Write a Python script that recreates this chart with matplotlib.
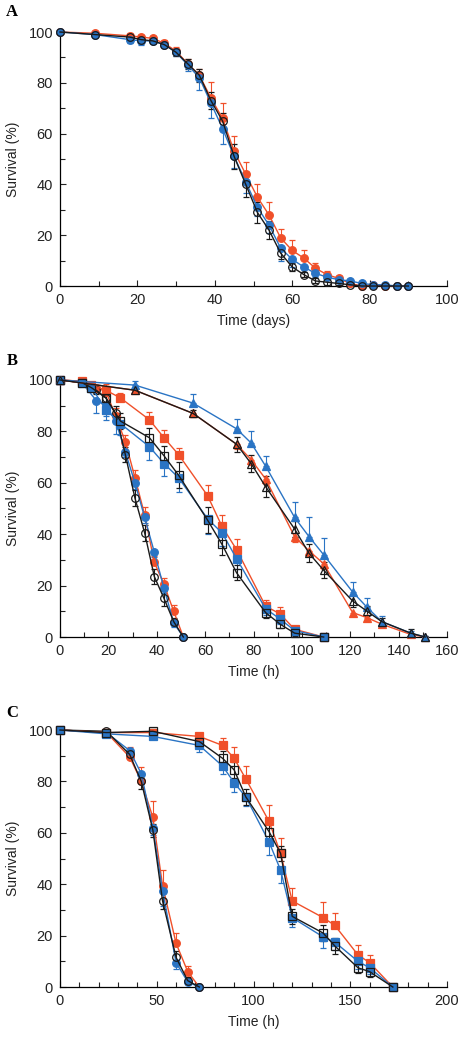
import matplotlib
matplotlib.use('Agg')
import matplotlib.pyplot as plt
from matplotlib.ticker import MultipleLocator

RED = '#f0502a'
BLUE = '#2a74c4'
BLACK = '#1a1a1a'

# ---- panel A : time in days ----
tA = [0, 9, 18, 21, 24, 27, 30, 33, 36, 39, 42, 45, 48, 51, 54, 57, 60, 63, 66, 69, 72, 75, 78, 81, 84, 87, 90]
redA = [100, 99.5, 98.5, 98, 97.5, 95.5, 92.5, 87.5, 83, 74, 66, 53, 44, 35, 28, 19, 14, 11, 7, 4.5, 3, 1, 0, 0.5, 0, 0, 0]
blueA = [100, 99, 97, 96.5, 96.5, 95, 92, 87, 82, 72, 62, 51, 41, 31, 24, 15, 10.5, 7.5, 5, 3.5, 2.5, 2, 1, 0.5, 0.5, 0, 0]
blackA = [100, 99, 98, 97, 96.5, 95, 92, 87.5, 83, 73, 65, 51, 40, 29, 22, 13, 7.5, 4.5, 2, 1.5, 1, 0.5, 0, 0, 0, 0, 0]
redA_err = [0, 0.5, 1, 1, 1, 1.5, 1.5, 2, 2.5, 6.5, 6, 6, 5, 5, 5, 3.5, 4, 3, 2, 1.5, 1, 0.5, 0.5, 0.3, 0.3, 0, 0]
blueA_err = [0, 0.5, 1.5, 1.5, 1, 1, 1.5, 2.5, 5, 6, 6, 4.5, 4.5, 3.5, 3, 5, 3, 2, 1.5, 1, 1, 1, 0.5, 0.5, 0.3, 0, 0]
blackA_err = [0, 0.5, 1, 1, 1, 1, 1.5, 2, 2.5, 3.5, 3, 5, 5, 4, 3.5, 2.5, 1.5, 1, 1, 1, 0.5, 0.5, 0.3, 0.3, 0.3, 0, 0]

# ---- panel B : hours ----
tB_circ = [0, 9, 15, 19, 23, 27, 31, 35, 39, 43, 47, 51]
redB_circ = [100, 99.5, 97, 95.5, 86, 76, 62, 47.5, 29, 20.5, 10, 0]
blueB_circ = [100, 99, 92, 90, 84, 72, 60, 46.5, 33, 19, 5.5, 0]
blackB_circ = [100, 99, 96, 93, 87, 71, 54, 40.5, 23.5, 15, 6, 0]
redB_circ_err = [0, 0.5, 1, 3, 3, 2.5, 3, 3, 2.5, 2.5, 2.5, 0]
blueB_circ_err = [0, 0.5, 5, 4, 5, 2, 2.5, 2, 2, 2, 1.5, 0]
blackB_circ_err = [0, 0.5, 1.5, 3, 3, 3, 3, 3, 3, 3, 1.5, 0]

tB_sq = [0, 9, 13, 19, 25, 37, 43, 49, 61, 67, 73, 85, 91, 97, 109]
redB_sq = [100, 99.5, 98, 96, 93, 84.5, 77.5, 71, 55, 43, 34, 12, 9, 3, 0]
blueB_sq = [100, 99, 97, 88.5, 83, 74, 67.5, 62, 46, 40.5, 30.5, 11, 7, 2.5, 0]
blackB_sq = [100, 99, 97, 93, 84, 77.5, 70.5, 63, 45.5, 36, 25, 9.5, 5, 1.5, 0]
redB_sq_err = [0, 0.5, 1, 1.5, 2, 3, 3, 2.5, 4, 4.5, 4, 2.5, 2.5, 1, 0]
blueB_sq_err = [0, 0.5, 1, 4, 4.5, 5, 5, 5.5, 6, 5, 4, 2.5, 2, 1, 0.5]
blackB_sq_err = [0, 0.5, 1, 2, 3, 4, 4, 5, 5, 4, 3, 2, 1.5, 1, 0.5]

tB_tri = [0, 31, 55, 73, 79, 85, 97, 103, 109, 121, 127, 133, 145, 151]
redB_tri = [100, 96, 87, 75, 69, 61.5, 39, 33.5, 28.5, 9.5, 7.5, 5, 1, 0]
blueB_tri = [100, 98, 91, 81, 75.5, 66.5, 46.5, 39, 32, 17.5, 11.5, 6, 1.5, 0]
blackB_tri = [100, 96, 87, 75, 67.5, 58.5, 42, 32.5, 26, 14, 10, 6, 1.5, 0]
redB_tri_err = [0, 1, 1, 2, 2, 2, 2, 2, 2, 1.5, 1, 1, 0.5, 0]
blueB_tri_err = [0, 1.5, 3.5, 4, 4.5, 4, 6, 7.5, 6.5, 4, 3.5, 2, 1, 0.5]
blackB_tri_err = [0, 1, 1.5, 3, 3.5, 4, 3, 3.5, 3, 2.5, 2, 1.5, 1.5, 0.5]

# ---- panel C : hours ----
tC_circ = [0, 24, 36, 42, 48, 53, 60, 66, 72]
redC_circ = [100, 99, 89.5, 80, 66, 39.5, 17, 6, 0]
blueC_circ = [100, 99, 92, 83, 62, 37.5, 9.5, 2, 0]
blackC_circ = [100, 99.5, 90.5, 80, 61, 33.5, 11.5, 2.5, 0]
redC_circ_err = [0, 1, 4, 5.5, 6.5, 6, 4, 2, 0]
blueC_circ_err = [0, 1, 1.5, 2, 3, 6, 2.5, 1, 0]
blackC_circ_err = [0, 1, 1.5, 3, 2.5, 3, 2.5, 1.5, 0]

tC_sq = [0, 24, 48, 72, 84, 90, 96, 108, 114, 120, 136, 142, 154, 160, 172]
redC_sq = [100, 99, 99, 97.5, 94, 89, 81, 64.5, 52, 33.5, 27, 24, 12.5, 9.5, 0]
blueC_sq = [100, 98.5, 97.5, 94, 86, 79.5, 74, 56.5, 45.5, 27, 19.5, 17.5, 10, 7.5, 0]
blackC_sq = [100, 99, 99.5, 95.5, 89, 84.5, 74, 60.5, 52, 27.5, 21, 16, 7.5, 6, 0]
redC_sq_err = [0, 1, 1, 1.5, 3, 4.5, 5, 6.5, 6, 5, 6, 5, 4, 3, 0]
blueC_sq_err = [0, 1, 1, 2.5, 3, 3.5, 3.5, 5, 5, 3.5, 4.5, 3, 3, 2.5, 0.5]
blackC_sq_err = [0, 1, 1, 2, 3, 3, 3, 3.5, 3, 3, 3, 3, 2, 2, 0.5]


def series(ax, x, y, err, color, marker, filled, side):
    lo = [e if side in ('down', 'both') else 0 for e in err]
    hi = [e if side in ('up', 'both') else 0 for e in err]
    ms = 5.5 if marker == 'o' else (5.5 if marker == 's' else 6)
    eb = ax.errorbar(x, y, yerr=[lo, hi], color=color, lw=1.0, marker=marker,
                     ms=ms, mfc=color if filled else 'none',
                     mec=color if not filled else color, mew=0.9,
                     ecolor=color, elinewidth=0.8, capsize=2, capthick=0.8,
                     clip_on=False, zorder=3)
    for part in eb.lines[1] + eb.lines[2] if False else []:
        part.set_clip_on(False)
    for c in eb[1]:
        c.set_clip_on(False)
    for c in eb[2]:
        c.set_clip_on(False)


def style(ax, xmax, xmajor, xlabel):
    ax.set_xlim(0, xmax)
    ax.set_ylim(0, 100)
    ax.spines['top'].set_visible(False)
    ax.spines['right'].set_visible(False)
    ax.spines['left'].set_linewidth(0.9)
    ax.spines['bottom'].set_linewidth(0.9)
    ax.xaxis.set_major_locator(MultipleLocator(xmajor))
    ax.xaxis.set_minor_locator(MultipleLocator(10))
    ax.yaxis.set_major_locator(MultipleLocator(20))
    ax.yaxis.set_minor_locator(MultipleLocator(10))
    ax.tick_params(which='both', direction='in', width=0.8, labelsize=10.5,
                   colors='#222222')
    ax.tick_params(which='major', length=4, pad=5)
    ax.tick_params(which='minor', length=3.5)
    ax.set_xlabel(xlabel, fontsize=10, labelpad=5, color='#222222')
    ax.set_ylabel('Survival (%)', fontsize=10, labelpad=6, color='#222222')


plt.rcParams['font.family'] = ['Liberation Sans', 'DejaVu Sans']

fig = plt.figure(figsize=(4.58, 10.39), dpi=100)

axA = fig.add_axes([0.131, 0.7247, 0.845, 0.2445])
series(axA, tA, redA, redA_err, RED, 'o', True, 'up')
series(axA, tA, blueA, blueA_err, BLUE, 'o', True, 'down')
series(axA, tA, blackA, blackA_err, BLACK, 'o', False, 'both')
style(axA, 100, 20, 'Time (days)')

axB = fig.add_axes([0.131, 0.3869, 0.845, 0.2474])
series(axB, tB_circ, redB_circ, redB_circ_err, RED, 'o', True, 'up')
series(axB, tB_circ, blueB_circ, blueB_circ_err, BLUE, 'o', True, 'down')
series(axB, tB_circ, blackB_circ, blackB_circ_err, BLACK, 'o', False, 'both')
series(axB, tB_sq, redB_sq, redB_sq_err, RED, 's', True, 'up')
series(axB, tB_sq, blueB_sq, blueB_sq_err, BLUE, 's', True, 'down')
series(axB, tB_sq, blackB_sq, blackB_sq_err, BLACK, 's', False, 'both')
series(axB, tB_tri, redB_tri, redB_tri_err, RED, '^', True, 'down')
series(axB, tB_tri, blueB_tri, blueB_tri_err, BLUE, '^', True, 'up')
series(axB, tB_tri, blackB_tri, blackB_tri_err, BLACK, '^', False, 'both')
style(axB, 160, 20, 'Time (h)')

axC = fig.add_axes([0.131, 0.0500, 0.845, 0.2474])
series(axC, tC_circ, redC_circ, redC_circ_err, RED, 'o', True, 'up')
series(axC, tC_circ, blueC_circ, blueC_circ_err, BLUE, 'o', True, 'down')
series(axC, tC_circ, blackC_circ, blackC_circ_err, BLACK, 'o', False, 'both')
series(axC, tC_sq, redC_sq, redC_sq_err, RED, 's', True, 'up')
series(axC, tC_sq, blueC_sq, blueC_sq_err, BLUE, 's', True, 'down')
series(axC, tC_sq, blackC_sq, blackC_sq_err, BLACK, 's', False, 'both')
style(axC, 200, 50, 'Time (h)')

for lab, yy in [('A', 1 - 12 / 1039), ('B', 1 - 361 / 1039), ('C', 1 - 713 / 1039)]:
    fig.text(12 / 458, yy, lab, fontsize=12, fontweight='bold', ha='center', va='center',
             family=['Liberation Serif', 'DejaVu Serif'])

fig.savefig('out.png', dpi=100)
